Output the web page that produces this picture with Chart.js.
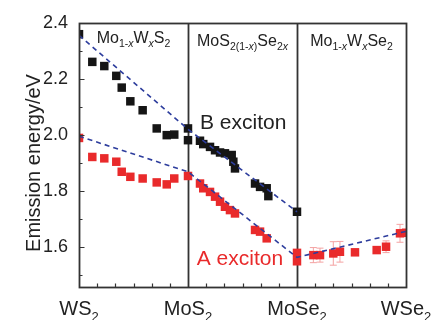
<!DOCTYPE html>
<html>
<head>
<meta charset="utf-8">
<script src="https://cdn.jsdelivr.net/npm/chart.js@4/dist/chart.umd.min.js"></script>
<style>
  html, body { margin: 0; padding: 0; background: #ffffff; }
  #wrap { width: 435px; height: 320px; }
</style>
</head>
<body>
<div id="wrap"><canvas id="chart" width="435" height="320"></canvas></div>
<script>
// Composition axis: 0 = WS2, 1 = MoS2, 2 = MoSe2, 3 = WSe2
const xTickValues = [0, 1, 2, 3];
const xTickLabels = [
  [['WS', 0], ['2', 1]],
  [['MoS', 0], ['2', 1]],
  [['MoSe', 0], ['2', 1]],
  [['WSe', 0], ['2', 1]]
];
const yTickValues = [1.6, 1.8, 2.0, 2.2, 2.4];

// Alloy series names, one per composition segment
const sectionCenters = [0.5, 1.5, 2.5];
const sectionNames = [
  [['Mo', 0], ['1-', 1], ['x', 3], ['W', 0], ['x', 3], ['S', 0], ['2', 1]],
  [['MoS', 0], ['2(1-', 1], ['x', 3], [')', 1], ['Se', 0], ['2', 1], ['x', 3]],
  [['Mo', 0], ['1-', 1], ['x', 3], ['W', 0], ['x', 3], ['Se', 0], ['2', 1]]
];
const sectionNameY = [2.329, 2.319, 2.319];

// B exciton emission energy (eV)
const bX = [0.0, 0.122, 0.232, 0.342, 0.392, 0.471, 0.584, 0.713, 0.805, 0.874, 1.0, 1.0,
            1.110, 1.140, 1.202, 1.248, 1.294, 1.339, 1.401, 1.416, 1.431,
            1.615, 1.661, 1.722, 1.737, 2.0];
const bY = [2.360, 2.261, 2.246, 2.211, 2.169, 2.120, 2.088, 2.023, 1.999, 2.001, 2.023, 1.981,
            1.979, 1.967, 1.957, 1.945, 1.937, 1.934, 1.928, 1.904, 1.880,
            1.826, 1.814, 1.809, 1.781, 1.725];

// A exciton emission energy (eV) and its uncertainty
const aX = [0.0, 0.122, 0.232, 0.342, 0.392, 0.471, 0.584, 0.713, 0.805, 0.874, 1.0,
            1.110, 1.140, 1.202, 1.248, 1.294, 1.339, 1.385, 1.431,
            1.615, 1.661, 1.722, 2.0, 2.0,
            2.150, 2.211, 2.333, 2.394, 2.532, 2.731, 2.817, 2.945, 3.0];
const aY = [1.989, 1.921, 1.916, 1.904, 1.868, 1.850, 1.844, 1.830, 1.823, 1.844, 1.853,
            1.826, 1.809, 1.796, 1.779, 1.761, 1.743, 1.731, 1.719,
            1.660, 1.654, 1.630, 1.578, 1.548,
            1.570, 1.570, 1.576, 1.582, 1.580, 1.588, 1.600, 1.648, 1.650];
const aErr = [0, 0, 0, 0, 0, 0, 0, 0, 0, 0, 0,
              0, 0, 0, 0, 0, 0, 0, 0,
              0, 0, 0, 0, 0,
              0.027, 0.025, 0.042, 0.037, 0, 0, 0.021, 0.032, 0];

// Guide-to-the-eye trend lines
const bTrendX = [0, 1, 2];
const bTrendY = [2.356, 2.020, 1.725];
const aTrendX = [0, 1, 2, 3];
const aTrendY = [1.995, 1.868, 1.562, 1.655];

const FONT = '"Liberation Sans", Arial, Helvetica, sans-serif';
const TEXT = '#222222';
const FRAME = '#333333';
const RED = '#e92a2b';
const BLACK = '#151515';
const NAVY = '#2d3d9d';

const pts = (xs, ys) => xs.map((x, i) => ({ x: x, y: ys[i] }));

// Draw a label made of normal / subscript / italic-subscript pieces
function drawRich(ctx, parts, x, y, size, subSize, align, color) {
  const fontFor = kind => kind === 0 ? `${size}px ${FONT}`
                        : kind === 3 ? `italic ${subSize}px ${FONT}`
                        : `${subSize}px ${FONT}`;
  let total = 0;
  parts.forEach(([t, k]) => { ctx.font = fontFor(k); total += ctx.measureText(t).width; });
  let cx = align === 'center' ? x - total / 2 : x;
  ctx.fillStyle = color;
  ctx.textAlign = 'left';
  ctx.textBaseline = 'alphabetic';
  parts.forEach(([t, k]) => {
    ctx.font = fontFor(k);
    const dy = k === 0 ? 0 : Math.round(size * 0.28);
    ctx.fillText(t, cx, y + dy);
    cx += ctx.measureText(t).width;
  });
}

const decorations = {
  id: 'decorations',
  beforeDatasetsDraw(chart) {
    const { ctx, chartArea: a, scales: { x, y } } = chart;
    ctx.save();
    // segment dividers
    ctx.strokeStyle = FRAME;
    ctx.lineWidth = 1.8;
    [1, 2].forEach(v => {
      const px = Math.round(x.getPixelForValue(v)) + 0.5;
      ctx.beginPath(); ctx.moveTo(px, a.top); ctx.lineTo(px, a.bottom); ctx.stroke();
    });
    // error bars of the A exciton
    ctx.strokeStyle = '#f4a2a2';
    ctx.lineWidth = 1;
    aX.forEach((vx, i) => {
      if (!aErr[i]) return;
      const px = x.getPixelForValue(vx);
      const y1 = y.getPixelForValue(aY[i] + aErr[i]);
      const y2 = y.getPixelForValue(aY[i] - aErr[i]);
      ctx.beginPath();
      ctx.moveTo(px, y1); ctx.lineTo(px, y2);
      ctx.moveTo(px - 3.5, y1); ctx.lineTo(px + 3.5, y1);
      ctx.moveTo(px - 3.5, y2); ctx.lineTo(px + 3.5, y2);
      ctx.stroke();
    });
    ctx.restore();
  },
  afterDatasetsDraw(chart) {
    const { ctx, chartArea: a, scales: { x, y } } = chart;
    ctx.save();
    // frame
    ctx.strokeStyle = FRAME;
    ctx.lineWidth = 1.8;
    ctx.strokeRect(a.left + 0.5, a.top + 0.5, a.right - a.left, a.bottom - a.top);
    // inward tick marks
    ctx.lineWidth = 1.2;
    ctx.beginPath();
    for (let k = 1; k < 18; k++) {
      if (k % 6 === 0) continue;
      const px = Math.round(x.getPixelForValue(k / 6)) + 0.5;
      ctx.moveTo(px, a.bottom); ctx.lineTo(px, a.bottom - 3.5);
    }
    yTickValues.forEach(v => {
      const py = Math.round(y.getPixelForValue(v)) + 0.5;
      ctx.moveTo(a.left, py); ctx.lineTo(a.left + 5.5, py);
      const pm = Math.round(y.getPixelForValue(v - 0.1)) + 0.5;
      if (pm < a.bottom) { ctx.moveTo(a.left, pm); ctx.lineTo(a.left + 3.5, pm); }
    });
    ctx.stroke();

    // x tick labels with subscripts
    xTickValues.forEach((v, i) => {
      drawRich(ctx, xTickLabels[i], x.getPixelForValue(v), 315, 20, 13, 'center', TEXT);
    });
    // segment names
    sectionCenters.forEach((v, i) => {
      drawRich(ctx, sectionNames[i], x.getPixelForValue(v), y.getPixelForValue(sectionNameY[i]), 16, 10.5, 'center', TEXT);
    });
    // exciton labels
    ctx.font = `21px ${FONT}`;
    ctx.textAlign = 'left';
    ctx.textBaseline = 'alphabetic';
    ctx.fillStyle = TEXT;
    ctx.fillText('B exciton', x.getPixelForValue(1.11), y.getPixelForValue(2.02));
    ctx.fillStyle = RED;
    ctx.fillText('A exciton', x.getPixelForValue(1.08), y.getPixelForValue(1.535));

    // y axis title
    ctx.translate(40, 163);
    ctx.rotate(-Math.PI / 2);
    ctx.font = `20px ${FONT}`;
    ctx.textAlign = 'center';
    ctx.fillStyle = TEXT;
    ctx.fillText('Emission energy/eV', 0, 0);
    ctx.restore();
  }
};

new Chart(document.getElementById('chart'), {
  type: 'scatter',
  data: {
    datasets: [
      { label: 'B trend', type: 'line', data: pts(bTrendX, bTrendY), borderColor: NAVY,
        borderWidth: 1.6, borderDash: [5, 4], pointRadius: 0, fill: false, order: 0 },
      { label: 'A trend', type: 'line', data: pts(aTrendX, aTrendY), borderColor: NAVY,
        borderWidth: 1.6, borderDash: [5, 4], pointRadius: 0, fill: false, order: 0 },
      { label: 'B exciton', data: pts(bX, bY), pointStyle: 'rect', pointRadius: 6,
        backgroundColor: BLACK, borderColor: BLACK, borderWidth: 0, order: 1 },
      { label: 'A exciton', data: pts(aX, aY), pointStyle: 'rect', pointRadius: 6,
        backgroundColor: RED, borderColor: RED, borderWidth: 0, order: 1 }
    ]
  },
  options: {
    responsive: false,
    animation: false,
    devicePixelRatio: 1,
    layout: { padding: { left: 0, right: 29, top: 23, bottom: 0 } },
    plugins: { legend: { display: false }, tooltip: { enabled: false } },
    scales: {
      x: {
        type: 'linear', min: 0, max: 3,
        grid: { display: false, drawTicks: false }, border: { display: false },
        ticks: { display: false },
        afterBuildTicks: s => { s.ticks = xTickValues.map(v => ({ value: v })); },
        afterFit: s => { s.height = 33; }
      },
      y: {
        type: 'linear', min: 1.456, max: 2.4,
        grid: { display: false, drawTicks: false }, border: { display: false },
        ticks: { font: { size: 18, family: FONT }, color: TEXT, padding: 11,
                 callback: v => Number(v).toFixed(1) },
        afterBuildTicks: s => { s.ticks = yTickValues.map(v => ({ value: v })); },
        afterFit: s => { s.width = 79; }
      }
    }
  },
  plugins: [decorations]
});
</script>
</body>
</html>
